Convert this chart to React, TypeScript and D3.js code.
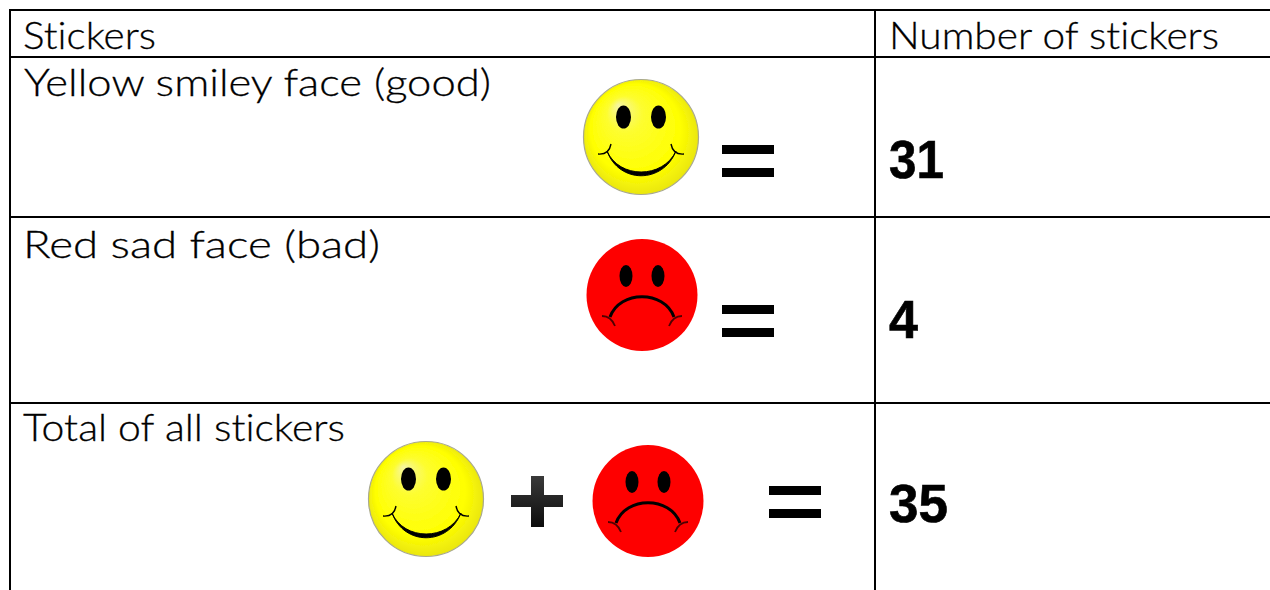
import * as d3 from "d3";

const WIDTH = 1270;
const HEIGHT = 590;

// table content
const HEADERS = ["Stickers", "Number of stickers"];
const ROW_LABELS = ["Yellow smiley face (good)", "Red sad face (bad)", "Total of all stickers"];
const ROW_COUNTS = [31, 4, 35];

// ink widths of the text as measured on the reference
const HEADER_WIDTHS = [133, 330];
const LABEL_WIDTHS = [467, 357, 322];
const COUNT_WIDTHS = [55, 29, 59];

const x = d3.scaleOrdinal<string, number>().domain(["left", "divider", "right"]).range([10, 875, 1270]);
const lineY = d3.scaleOrdinal<string, number>()
  .domain(["top", "head", "row0", "row1"])
  .range([10, 57, 217, 403]);

const LABEL_FONT = "Lato, 'Open Sans', sans-serif";
const COUNT_FONT = "'Liberation Sans', Arial, sans-serif";

function Smiley({ cx, cy }: { cx: number; cy: number }) {
  // crescent mouth, thicker in the middle
  const mouth = d3.path();
  mouth.moveTo(-34, 14);
  mouth.bezierCurveTo(-22, 47, 22, 47, 35, 14);
  mouth.bezierCurveTo(22, 42, -22, 42, -34, 14);
  mouth.closePath();
  const cheeks = d3.path();
  for (const s of [-1, 1]) {
    cheeks.moveTo(s * 43, 17);
    cheeks.quadraticCurveTo(s * 32, 18, s * 30, 7);
  }
  return (
    <g transform={`translate(${cx},${cy})`} filter="url(#softYellow)">
      <circle r={57.5} fill="url(#yellowFace)" stroke="#a9a98f" strokeWidth={1.2} />
      <ellipse cx={-17.5} cy={-20} rx={7.5} ry={11.5} fill="#000" />
      <ellipse cx={17.5} cy={-20} rx={7.5} ry={11.5} fill="#000" />
      <path d={mouth.toString()} fill="#000" stroke="#000" strokeWidth={1} />
      <path d={cheeks.toString()} fill="none" stroke="#000" strokeWidth={1.4} />
    </g>
  );
}

function Frowny({ cx, cy }: { cx: number; cy: number }) {
  const mouth = d3.path();
  mouth.moveTo(-32, 22);
  mouth.bezierCurveTo(-22, -5, 22, -5, 32, 22);
  const cheeks = d3.path();
  for (const s of [-1, 1]) {
    cheeks.moveTo(s * 40, 21);
    cheeks.quadraticCurveTo(s * 31, 21, s * 27, 31);
  }
  return (
    <g transform={`translate(${cx},${cy})`} filter="url(#soft)">
      <ellipse rx={55.5} ry={56} fill="#fe0000" />
      <ellipse cx={-16} cy={-19} rx={6.5} ry={11} fill="#000" />
      <ellipse cx={16} cy={-19} rx={6.5} ry={11} fill="#000" />
      <path d={mouth.toString()} fill="none" stroke="#000" strokeWidth={3} />
      <path d={cheeks.toString()} fill="none" stroke="#500000" strokeWidth={1.8} />
    </g>
  );
}

function Equals({ left, top }: { left: number; top: number }) {
  return (
    <g fill="#000">
      <rect x={left} y={top} width={52} height={9} />
      <rect x={left} y={top + 23} width={52} height={9} />
    </g>
  );
}

export default function App() {
  const left = x("left");
  const divider = x("divider");
  const right = x("right");
  const hLines = ["top", "head", "row0", "row1"].map((k) => lineY(k));
  const labelBaselines = [96, 258, 441];
  const countBaselines = [178, 338, 522];

  return (
    <svg
      width={WIDTH}
      height={HEIGHT}
      viewBox={`0 0 ${WIDTH} ${HEIGHT}`}
      style={{ position: "absolute", left: 0, top: 0, background: "#fff" }}
    >
      <defs>
        <radialGradient id="yellowFace" cx="0.5" cy="0.5" r="0.52" fx="0.3" fy="0.22">
          <stop offset="0" stopColor="#f6f6a0" />
          <stop offset="0.3" stopColor="#fdfd30" />
          <stop offset="0.75" stopColor="#ffff00" />
          <stop offset="1" stopColor="#e8e410" />
        </radialGradient>
        <linearGradient id="plusFill" x1="0" y1="0" x2="0" y2="1">
          <stop offset="0" stopColor="#3a3a3a" />
          <stop offset="1" stopColor="#0c0c0c" />
        </linearGradient>
        <filter id="soft" x="-10%" y="-10%" width="120%" height="120%">
          <feGaussianBlur stdDeviation="0.5" />
        </filter>
        <filter id="softYellow" x="-10%" y="-10%" width="120%" height="120%">
          <feGaussianBlur stdDeviation="0.4" />
        </filter>
      </defs>

      {/* rules */}
      <g stroke="#000" strokeWidth={2}>
        {hLines.map((y) => (
          <line key={y} x1={left - 1} x2={right} y1={y} y2={y} />
        ))}
        <line x1={left} x2={left} y1={hLines[0]} y2={HEIGHT} />
        <line x1={divider} x2={divider} y1={hLines[0]} y2={HEIGHT} />
      </g>

      {/* header and row labels */}
      <g
        fontFamily={LABEL_FONT}
        fontWeight={300}
        fontSize={38}
        fill="#000"
        stroke="#000"
        strokeWidth={0.3}
        style={{ fontVariantLigatures: "none" }}
      >
        <text x={23} y={49} textLength={HEADER_WIDTHS[0]} lengthAdjust="spacingAndGlyphs">{HEADERS[0]}</text>
        <text x={889} y={49} textLength={HEADER_WIDTHS[1]} lengthAdjust="spacingAndGlyphs">{HEADERS[1]}</text>
        {ROW_LABELS.map((label, i) => (
          <text key={label} x={i === 0 ? 24 : 23} y={labelBaselines[i]} textLength={LABEL_WIDTHS[i]} lengthAdjust="spacingAndGlyphs">
            {label}
          </text>
        ))}
      </g>

      {/* counts */}
      <g fontFamily={COUNT_FONT} fontWeight={700} fontSize={53} fill="#000" stroke="#000" strokeWidth={0.6}>
        {ROW_COUNTS.map((n, i) => (
          <text key={n} x={889} y={countBaselines[i]} textLength={COUNT_WIDTHS[i]} lengthAdjust="spacingAndGlyphs">
            {n}
          </text>
        ))}
      </g>

      {/* faces */}
      <Smiley cx={641} cy={137} />
      <Equals left={722} top={145} />
      <Frowny cx={642} cy={295} />
      <Equals left={722} top={305} />
      <Smiley cx={426} cy={499} />
      <path d="M531 476h13v19h19v12h-19v20h-13v-20h-20v-12h20z" fill="url(#plusFill)" />
      <Frowny cx={648} cy={501} />
      <Equals left={769} top={486} />
    </svg>
  );
}
